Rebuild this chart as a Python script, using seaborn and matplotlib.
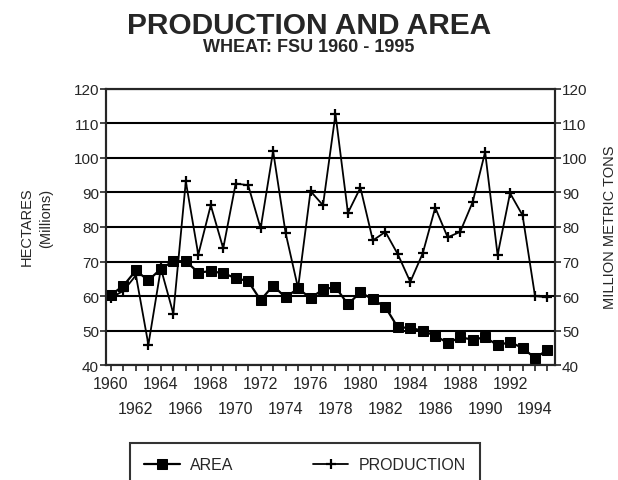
import matplotlib
matplotlib.use("Agg")
import matplotlib.pyplot as plt
import seaborn as sns
import pandas as pd
from matplotlib.ticker import FixedLocator, FixedFormatter


years = list(range(1960, 1996))
area = [60.3, 63.0, 67.4, 64.5, 67.9, 70.1, 70.1, 66.8, 67.2, 66.6,
        65.2, 64.3, 58.8, 63.0, 59.6, 62.2, 59.4, 61.9, 62.6, 57.6,
        61.1, 59.0, 56.8, 50.9, 50.8, 49.9, 48.5, 46.4, 48.0, 47.4,
        48.0, 45.8, 46.6, 45.0, 42.0, 44.4]
production = [59.5, 61.5, 66.0, 45.9, 68.0, 54.9, 93.2, 72.0, 86.3, 73.8,
              92.6, 92.1, 79.6, 102.0, 78.3, 62.3, 90.4, 86.3, 112.7, 84.1,
              91.4, 76.1, 78.6, 72.1, 64.1, 72.4, 85.6, 77.0, 78.6, 87.2,
              101.7, 71.9, 89.8, 83.4, 60.0, 59.6]
y_ticks = list(range(40, 121, 10))

df = pd.DataFrame({"year": years, "AREA": area, "PRODUCTION": production})

sns.set_style("ticks")
plt.rcParams["font.family"] = ["Liberation Sans", "DejaVu Sans"]

fig = plt.figure(figsize=(6.18, 4.81), dpi=100)
ax = fig.add_axes([0.1715, 0.239, 0.7265, 0.574])

sns.lineplot(data=df, x="year", y="AREA", ax=ax, color="black", linewidth=1.6,
             marker="s", markersize=7, markeredgecolor="black", label="AREA")
sns.lineplot(data=df, x="year", y="PRODUCTION", ax=ax, color="black", linewidth=1.3,
             marker="+", markersize=7, markeredgewidth=1.6, markeredgecolor="black",
             label="PRODUCTION")

ax.set_xlim(1959.6, 1995.6)
ax.set_ylim(40, 120)
ax.set_yticks(y_ticks)
ax.set_yticklabels([str(v) for v in y_ticks], fontsize=11)
for v in y_ticks:
    ax.axhline(v, color="black", linewidth=1.5, zorder=0)

# top row of year labels on major ticks, bottom row on minor ticks
top_years = [yr for yr in years if yr % 4 == 0]
other_years = [yr for yr in years if yr % 4 != 0]
ax.xaxis.set_major_locator(FixedLocator(top_years))
ax.xaxis.set_major_formatter(FixedFormatter([str(yr) for yr in top_years]))
ax.xaxis.set_minor_locator(FixedLocator(other_years))
ax.xaxis.set_minor_formatter(FixedFormatter([str(yr) if yr % 4 == 2 else "" for yr in other_years]))
ax.tick_params(axis="x", which="both", length=4, width=1.2, labelsize=11.5)
ax.tick_params(axis="x", which="major", pad=4)
ax.tick_params(axis="x", which="minor", pad=22)
ax.tick_params(axis="y", length=4, width=1.2, pad=1)
ax.set_xlabel("")
ax.set_ylabel("")

for s in ax.spines.values():
    s.set_linewidth(1.5)
    s.set_color("black")

ax2 = ax.twinx()
ax2.set_ylim(40, 120)
ax2.set_yticks(y_ticks)
ax2.set_yticklabels([str(v) for v in y_ticks], fontsize=11)
ax2.tick_params(axis="y", length=4, width=1.2, pad=1)
for s in ax2.spines.values():
    s.set_linewidth(1.5)

ax.get_legend().remove()
handles, lbls = ax.get_legend_handles_labels()
leg = fig.legend(handles, lbls, loc="upper left", ncol=2,
                 bbox_to_anchor=(130 / 618, 1 - 444 / 481), borderaxespad=0,
                 frameon=True, fancybox=False, edgecolor="black", fontsize=11.5,
                 handlelength=2.2, handletextpad=0.65, borderpad=0.9, columnspacing=5.0)
leg.get_frame().set_linewidth(1.5)

fig.text(0.5, 1 - 26 / 481, "PRODUCTION AND AREA", ha="center", va="center",
         fontsize=21.5, fontweight="bold")
fig.text(0.5, 1 - 48 / 481, "WHEAT: FSU 1960 - 1995", ha="center", va="center",
         fontsize=13, fontweight="bold")
fig.text(27 / 618, 1 - 227 / 481, "HECTARES", rotation=90, ha="center", va="center", fontsize=10.5)
fig.text(46 / 618, 1 - 218 / 481, "(Millions)", rotation=90, ha="center", va="center", fontsize=10.5)
fig.text(610 / 618, 1 - 227 / 481, "MILLION METRIC TONS", rotation=90, ha="center", va="center",
         fontsize=10.5)

fig.savefig("out.png", dpi=100)
